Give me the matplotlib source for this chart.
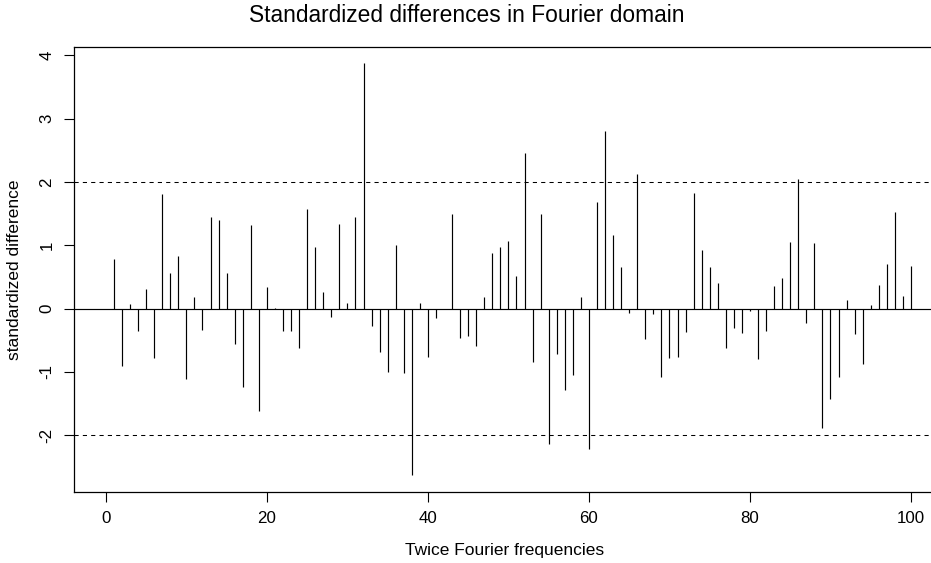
import matplotlib
matplotlib.use("Agg")
import matplotlib.pyplot as plt
import numpy as np

plt.rcParams['font.family'] = ['Liberation Sans', 'DejaVu Sans']

freqs = list(range(1, 101))
std_diff = [
    0.79, -0.91, 0.08, -0.35, 0.31, -0.78, 1.81, 0.57, 0.83, -1.11,
    0.19, -0.33, 1.44, 1.40, 0.56, -0.56, -1.24, 1.32, -1.61, 0.34,
    0.01, -0.36, -0.36, -0.62, 1.57, 0.98, 0.27, -0.13, 1.33, 0.09,
    1.45, 3.87, -0.28, -0.69, -1.00, 1.01, -1.01, -2.63, 0.09, -0.77,
    -0.15, -0.01, 1.50, -0.46, -0.43, -0.59, 0.18, 0.88, 0.97, 1.07,
    0.51, 2.46, -0.85, 1.50, -2.14, -0.72, -1.28, -1.04, 0.18, -2.22,
    1.68, 2.80, 1.17, 0.65, -0.07, 2.13, -0.48, -0.08, -1.08, -0.78,
    -0.76, -0.37, 1.83, 0.93, 0.65, 0.40, -0.62, -0.30, -0.39, -0.04,
    -0.80, -0.35, 0.35, 0.48, 1.05, 2.05, -0.22, 1.04, -1.89, -1.42,
    -1.08, 0.13, -0.40, -0.87, 0.06, 0.38, 0.71, 1.53, 0.20, 0.68,
]
thresholds = [2, -2]
x_ticks = [0, 20, 40, 60, 80, 100]
y_ticks = [-2, -1, 0, 1, 2, 3, 4]

W, H = 931, 563
fig = plt.figure(figsize=(W / 100, H / 100), dpi=100)
left_px, top_px, bottom_px = 74, 47, 491.7
xmin, xmax = -3.96, 103.96
px_per_unit = (911 - 106) / 100.0
right_px = 106 + xmax * px_per_unit
ax_w_px = right_px - left_px
ax_h_px = bottom_px - top_px
ax = fig.add_axes([left_px / W, 1 - bottom_px / H, ax_w_px / W, ax_h_px / H])

ax.vlines(freqs, 0, std_diff, color='black', linewidth=0.85)
ax.axhline(0, color='black', linewidth=0.85)
for t in thresholds:
    ax.axhline(t, color='black', linewidth=0.75, linestyle=(0, (4, 4)))

ymin = min(std_diff); ymax = max(std_diff)
pad = 0.04 * (ymax - ymin)
ax.set_xlim(xmin, xmax)
ax.set_ylim(ymin - pad, ymax + pad)

ax.set_xticks(x_ticks)
ax.set_yticks(y_ticks)
ax.set_yticklabels([str(v) for v in y_ticks], rotation=90, va='center')
ax.tick_params(axis='both', direction='out', length=7, width=0.8,
               labelsize=12.2)
ax.tick_params(axis='x', pad=7)
ax.tick_params(axis='y', pad=7)
for s in ax.spines.values():
    s.set_linewidth(0.9)

ax.set_xlabel('Twice Fourier frequencies', fontsize=12.5)
ax.set_ylabel('standardized difference', fontsize=12.5)
ax.xaxis.label.set_va('center')
ax.yaxis.label.set_va('center')
ax.xaxis.set_label_coords((505 - left_px) / ax_w_px, (bottom_px - 551) / ax_h_px)
ax.yaxis.set_label_coords((15 - left_px) / ax_w_px, (bottom_px - 270) / ax_h_px)

fig.text(467 / W, 1 - 16 / H, 'Standardized differences in Fourier domain',
         ha='center', va='center', fontsize=16.4)

fig.savefig('out.png', dpi=100)
